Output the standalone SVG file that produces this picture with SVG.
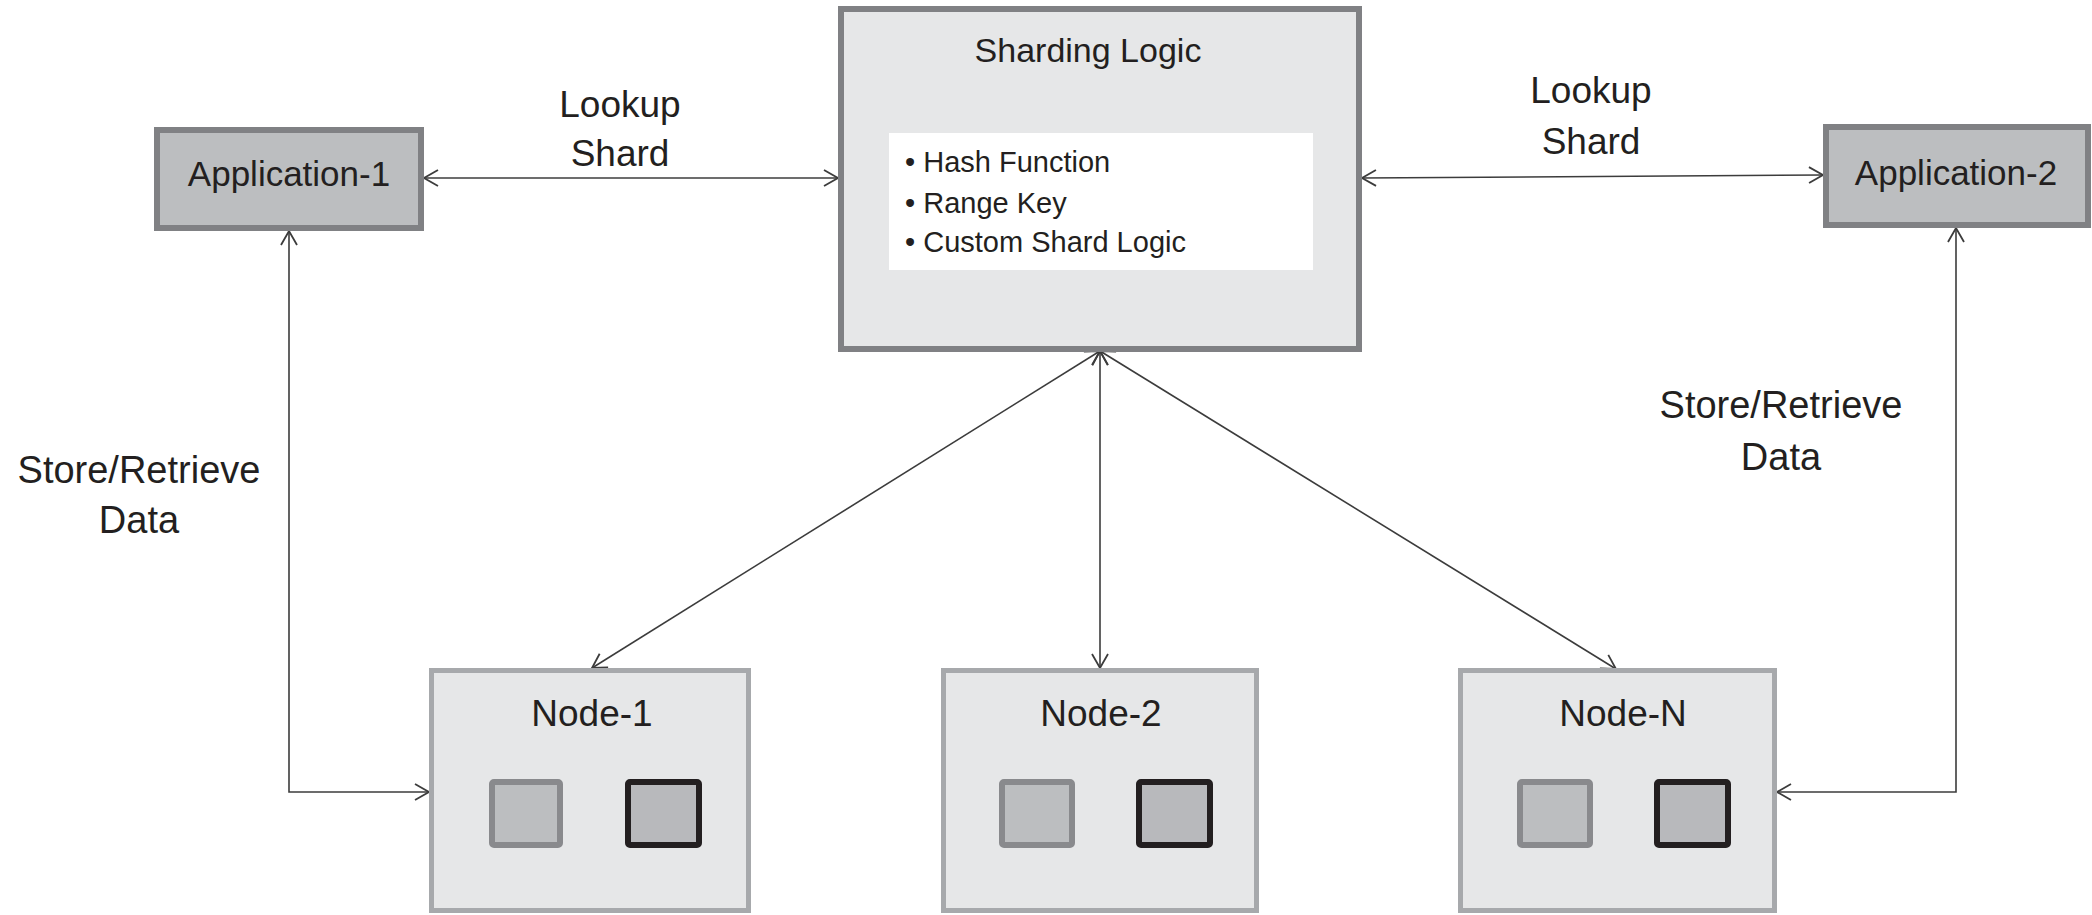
<svg xmlns="http://www.w3.org/2000/svg" width="2092" height="915" viewBox="0 0 2092 915">
<style>
text{font-family:"Liberation Sans",Arial,sans-serif;fill:#231F20;}
.app{fill:#BCBEC0;stroke:#808184;stroke-width:6;}
.main{fill:#E6E7E8;stroke:#808184;stroke-width:6;}
.node{fill:#E6E7E8;stroke:#A7A9AC;stroke-width:5;}
.sq1{fill:#BCBEC0;stroke:#898A8D;stroke-width:6;}
.sq2{fill:#B8B9BC;stroke:#231F20;stroke-width:6;}
.conn{fill:none;stroke:#3C3C3C;stroke-width:1.6;marker-start:url(#ah);marker-end:url(#ah);}
.lbl{font-size:37px;text-anchor:middle;}
</style>
<defs>
<marker id="ah" markerUnits="userSpaceOnUse" markerWidth="20" markerHeight="20" viewBox="-16 -10 18 20" refX="0" refY="0" orient="auto-start-reverse">
<path d="M-14,-8 L0,0 L-14,8" fill="none" stroke="#3C3C3C" stroke-width="1.8"/>
</marker>
</defs>
<g id="connectors">
<line class="conn" x1="424" y1="178" x2="838" y2="178"/>
<line class="conn" x1="1362" y1="178" x2="1823" y2="175"/>
<path class="conn" d="M289,231 V792 H429"/>
<path class="conn" d="M1956,228 V792 H1777"/>
<line class="conn" x1="1100" y1="351" x2="592" y2="668"/>
<line class="conn" x1="1100" y1="351" x2="1100" y2="668"/>
<line class="conn" x1="1100" y1="351" x2="1616" y2="669"/>
</g>
<g id="labels">
<text class="lbl" x="620" y="117">Lookup</text>
<text class="lbl" x="620" y="166">Shard</text>
<text class="lbl" x="1591" y="103">Lookup</text>
<text class="lbl" x="1591" y="154">Shard</text>
<text class="lbl" x="139" y="483" style="font-size:38px">Store/Retrieve</text>
<text class="lbl" x="139" y="533" style="font-size:38px">Data</text>
<text class="lbl" x="1781" y="418" style="font-size:38px">Store/Retrieve</text>
<text class="lbl" x="1781" y="470" style="font-size:38px">Data</text>
</g>
<g id="application-1">
<rect class="app" x="157" y="130" width="264" height="98"/>
<text class="lbl" x="289" y="186" style="font-size:35px">Application-1</text>
</g>
<g id="application-2">
<rect class="app" x="1826" y="127" width="262" height="98"/>
<text class="lbl" x="1956" y="185" style="font-size:35px">Application-2</text>
</g>
<g id="sharding-logic">
<rect class="main" x="841" y="9" width="518" height="340"/>
<text class="lbl" x="1088" y="62" style="font-size:34px">Sharding Logic</text>
<rect x="889" y="133" width="424" height="137" fill="#FFFFFF"/>
<text x="905" y="172" style="font-size:29px">• Hash Function</text>
<text x="905" y="213" style="font-size:29px">• Range Key</text>
<text x="905" y="252" style="font-size:29px">• Custom Shard Logic</text>
</g>
<g id="node-1">
<rect class="node" x="431.5" y="670.5" width="317" height="240"/>
<text class="lbl" x="592" y="726">Node-1</text>
<rect class="sq1" x="492" y="782" width="68" height="63" rx="2"/>
<rect class="sq2" x="628" y="782" width="71" height="63" rx="2"/>
</g>
<g id="node-2">
<rect class="node" x="943.5" y="670.5" width="313" height="240"/>
<text class="lbl" x="1101" y="726">Node-2</text>
<rect class="sq1" x="1002" y="782" width="70" height="63" rx="2"/>
<rect class="sq2" x="1139" y="782" width="71" height="63" rx="2"/>
</g>
<g id="node-n">
<rect class="node" x="1460.5" y="670.5" width="314" height="240"/>
<text class="lbl" x="1623" y="726">Node-N</text>
<rect class="sq1" x="1520" y="782" width="70" height="63" rx="2"/>
<rect class="sq2" x="1657" y="782" width="71" height="63" rx="2"/>
</g>
</svg>
